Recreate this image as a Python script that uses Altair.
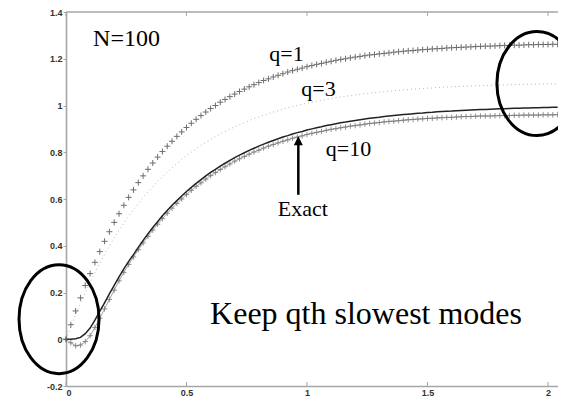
import altair as alt
import pandas as pd

# ---------------- data ----------------
X = [round(0.02 * k, 2) for k in range(103)]

Q1 = [0, 0.062, 0.121, 0.177, 0.230, 0.281, 0.329, 0.375, 0.419, 0.460,
      0.500, 0.537, 0.573, 0.607, 0.639, 0.670, 0.699, 0.727, 0.754, 0.779,
      0.803, 0.826, 0.847, 0.868, 0.887, 0.906, 0.924, 0.941, 0.957, 0.972,
      0.987, 1.000, 1.014, 1.026, 1.038, 1.049, 1.060, 1.070, 1.080, 1.089,
      1.098, 1.107, 1.114, 1.122, 1.129, 1.136, 1.143, 1.149, 1.155, 1.160,
      1.166, 1.171, 1.176, 1.180, 1.185, 1.189, 1.193, 1.197, 1.200, 1.204,
      1.207, 1.210, 1.213, 1.216, 1.218, 1.221, 1.223, 1.225, 1.228, 1.230,
      1.232, 1.234, 1.235, 1.237, 1.239, 1.240, 1.242, 1.243, 1.244, 1.246,
      1.247, 1.248, 1.249, 1.250, 1.251, 1.252, 1.253, 1.254, 1.254, 1.255,
      1.256, 1.257, 1.257, 1.258, 1.258, 1.259, 1.260, 1.260, 1.261, 1.261,
      1.261, 1.262, 1.262]

Q3 = [0, 0.054, 0.105, 0.153, 0.199, 0.243, 0.285, 0.325, 0.363, 0.399,
      0.433, 0.465, 0.496, 0.526, 0.554, 0.580, 0.606, 0.630, 0.653, 0.675,
      0.695, 0.715, 0.734, 0.752, 0.769, 0.785, 0.800, 0.815, 0.829, 0.842,
      0.855, 0.867, 0.878, 0.889, 0.899, 0.909, 0.918, 0.927, 0.935, 0.944,
      0.951, 0.958, 0.965, 0.972, 0.978, 0.984, 0.990, 0.995, 1.000, 1.005,
      1.010, 1.014, 1.018, 1.022, 1.026, 1.030, 1.033, 1.036, 1.039, 1.042,
      1.045, 1.048, 1.050, 1.053, 1.055, 1.057, 1.059, 1.061, 1.063, 1.065,
      1.067, 1.068, 1.070, 1.071, 1.073, 1.074, 1.075, 1.077, 1.078, 1.079,
      1.080, 1.081, 1.082, 1.083, 1.084, 1.084, 1.085, 1.086, 1.086, 1.087,
      1.088, 1.088, 1.089, 1.089, 1.090, 1.090, 1.091, 1.091, 1.092, 1.092,
      1.093, 1.093, 1.093]

EXACT = [0, 0.000, 0.002, 0.008, 0.024, 0.048, 0.082, 0.119, 0.156, 0.194,
         0.230, 0.267, 0.301, 0.333, 0.362, 0.393, 0.423, 0.451, 0.478, 0.503,
         0.528, 0.551, 0.573, 0.593, 0.613, 0.632, 0.650, 0.667, 0.683, 0.699,
         0.714, 0.727, 0.741, 0.753, 0.765, 0.777, 0.788, 0.798, 0.808, 0.817,
         0.826, 0.835, 0.843, 0.850, 0.858, 0.865, 0.871, 0.878, 0.884, 0.889,
         0.895, 0.900, 0.905, 0.909, 0.914, 0.918, 0.922, 0.926, 0.929, 0.933,
         0.936, 0.939, 0.942, 0.945, 0.948, 0.950, 0.953, 0.955, 0.957, 0.959,
         0.961, 0.963, 0.965, 0.967, 0.968, 0.970, 0.971, 0.973, 0.974, 0.975,
         0.976, 0.978, 0.979, 0.980, 0.981, 0.982, 0.983, 0.983, 0.984, 0.985,
         0.986, 0.986, 0.987, 0.988, 0.988, 0.989, 0.989, 0.990, 0.990, 0.991,
         0.991, 0.992, 0.992]

Q10 = [0, -0.015, -0.028, -0.025, -0.010, 0.015, 0.050, 0.090, 0.130, 0.170,
       0.210, 0.250, 0.286, 0.320, 0.352, 0.383, 0.412, 0.440, 0.467, 0.492,
       0.516, 0.539, 0.561, 0.581, 0.600, 0.619, 0.637, 0.654, 0.669, 0.685,
       0.700, 0.713, 0.726, 0.738, 0.750, 0.762, 0.772, 0.782, 0.792, 0.801,
       0.809, 0.818, 0.826, 0.833, 0.840, 0.847, 0.853, 0.860, 0.865, 0.870,
       0.876, 0.881, 0.885, 0.889, 0.894, 0.898, 0.901, 0.905, 0.908, 0.912,
       0.914, 0.917, 0.920, 0.923, 0.925, 0.927, 0.930, 0.932, 0.933, 0.935,
       0.937, 0.939, 0.940, 0.942, 0.943, 0.945, 0.945, 0.947, 0.948, 0.949,
       0.949, 0.951, 0.952, 0.953, 0.953, 0.954, 0.955, 0.955, 0.955, 0.956,
       0.957, 0.957, 0.957, 0.958, 0.958, 0.959, 0.959, 0.959, 0.959, 0.960,
       0.960, 0.960, 0.961]

X_TICKS = [0, 0.5, 1, 1.5, 2]
Y_TICKS = [-0.2, 0, 0.2, 0.4, 0.6, 0.8, 1, 1.2, 1.4]
X_DOMAIN = [0, 2.0415]
Y_DOMAIN = [-0.2, 1.4]

LABEL_TEXT = ["N=100", "q=1", "q=3", "q=10", "Exact", "Keep qth slowest modes"]
LABEL_X = [0.251, 0.915, 1.048, 1.172, 0.983, 1.245]
LABEL_Y = [1.256, 1.192, 1.042, 0.783, 0.529, 0.064]
LABEL_SIZE = [24, 22, 22, 22, 22, 32]

ARROW_X = [0.964]
ARROW_Y = [0.618]
ARROW_TIP = [0.845]
HEAD_Y = [0.849]

ELL_X = [-0.029, 1.954]
ELL_Y = [0.086, 1.094]
ELL_RX = [40, 40]   # px
ELL_RY = [54.5, 52]  # px

# ---------------- build ----------------
def frame(ys):
    return pd.DataFrame({"x": X[:len(ys)], "y": ys})

xs = alt.Scale(domain=X_DOMAIN, nice=False, zero=False)
ys = alt.Scale(domain=Y_DOMAIN, nice=False, zero=False)

AX = dict(domainColor="#a6a6a6", domainWidth=1.6, tickColor="#a6a6a6", tickWidth=1,
          labelFont="Liberation Sans", labelFontSize=9, labelColor="#333333",
          labelFontWeight="bold", grid=False, gridOpacity=0, gridWidth=0,
          gridColor="transparent")

xaxis = alt.Axis(values=X_TICKS, ticks=False, labelPadding=2, **AX,
                 labelExpr="format(datum.value, '~g')")
yaxis = alt.Axis(values=Y_TICKS, tickSize=3, labelPadding=1, **AX,
                 labelExpr="datum.value < 0 ? '-' + format(-datum.value, '~g') : format(datum.value, '~g')")

def X_(field="x"):
    return alt.X(f"{field}:Q", scale=xs, axis=xaxis, title=None)

def Y_(field="y"):
    return alt.Y(f"{field}:Q", scale=ys, axis=yaxis, title=None)

PLUS = "M-1,0L1,0M0,-1L0,1"

q3_line = alt.Chart(frame(Q3)).mark_line(color="#b5b5b5", strokeWidth=1, strokeDash=[1, 3]).encode(
    x=X_(), y=Y_())
q10_line = alt.Chart(frame(Q10)).mark_line(color="#8a8a8a", strokeWidth=0.8).encode(x=X_(), y=Y_())
q10_pts = alt.Chart(frame(Q10)).mark_point(shape=PLUS, size=30, color="#777777",
                                           strokeWidth=0.9, opacity=0.9).encode(x=X_(), y=Y_())
exact_line = alt.Chart(frame(EXACT)).mark_line(color="#222222", strokeWidth=1.5).encode(x=X_(), y=Y_())
q1_pts = alt.Chart(frame(Q1)).mark_point(shape=PLUS, size=36, color="#555555",
                                         strokeWidth=1, opacity=0.85).encode(x=X_(), y=Y_())

# top frame line and inward ticks on the bottom and top edges
top_df = pd.DataFrame({"x": [X_DOMAIN[0]], "x2": [X_DOMAIN[1]], "y": [Y_DOMAIN[1]]})
top_line = alt.Chart(top_df).mark_rule(color="#a6a6a6", strokeWidth=1.6).encode(
    x=X_(), x2="x2:Q", y=Y_())

tick_len = 0.017
ticks_df = pd.DataFrame({
    "x": X_TICKS + X_TICKS,
    "y": [Y_DOMAIN[0]] * len(X_TICKS) + [Y_DOMAIN[1]] * len(X_TICKS),
    "y2": [Y_DOMAIN[0] + tick_len] * len(X_TICKS) + [Y_DOMAIN[1] - tick_len] * len(X_TICKS),
})
ticks = alt.Chart(ticks_df).mark_rule(color="#a6a6a6", strokeWidth=1).encode(
    x=X_(), y=Y_(), y2="y2:Q")

labels_df = pd.DataFrame({"x": LABEL_X, "y": LABEL_Y, "t": LABEL_TEXT, "fs": LABEL_SIZE})
labels = alt.Chart(labels_df).mark_text(font="Liberation Serif", color="black",
                                        align="center", baseline="alphabetic").encode(
    x=X_(), y=Y_(), text="t:N", size=alt.Size("fs:Q", scale=None, legend=None))

arrow_df = pd.DataFrame({"x": ARROW_X, "y": ARROW_Y, "y2": ARROW_TIP, "hy": HEAD_Y})
shaft = alt.Chart(arrow_df).mark_rule(color="black", strokeWidth=2.5).encode(
    x=X_(), y=Y_(), y2="y2:Q")
head = alt.Chart(arrow_df).mark_point(shape="M0,-1L1,1L-1,1Z", filled=True, color="black",
                                      size=81, opacity=1).encode(x=X_(), y=Y_("hy"))

def ellipse_path(ratio):
    k = 0.5523
    a = ratio
    return (f"M{a},0 C{a},{k} {k*a},1 0,1 C{-k*a},1 {-a},{k} {-a},0 "
            f"C{-a},{-k} {-k*a},-1 0,-1 C{k*a},-1 {a},{-k} {a},0 Z")

ellipses = []
for ex, ey, rx, ry in zip(ELL_X, ELL_Y, ELL_RX, ELL_RY):
    e = alt.Chart(pd.DataFrame({"x": [ex], "y": [ey]})).mark_point(
        shape=ellipse_path(rx / ry), filled=False, color="black", strokeWidth=3,
        size=(2 * ry) ** 2, opacity=1).encode(x=X_(), y=Y_())
    ellipses.append(e)

chart = alt.layer(
    q3_line, q10_line, q10_pts, exact_line, q1_pts, top_line, ticks, labels, shaft, head, *ellipses
).properties(
    width=492, height=374,
    background="white",
    autosize=alt.AutoSizeParams(type="none"),
    padding={"left": 58, "top": 4, "right": 0, "bottom": 12},
).configure_view(stroke="transparent", strokeWidth=0).configure_axis(
    grid=False, gridOpacity=0, gridColor="transparent",
)

chart.save("out.html", embed_options={"renderer": "svg", "actions": False})
